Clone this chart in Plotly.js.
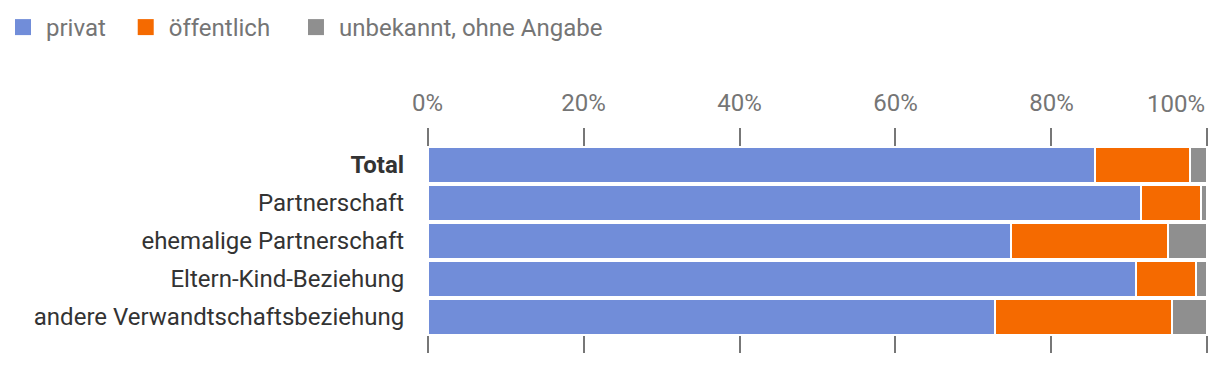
<!DOCTYPE html>
<html>
<head>
<meta charset="utf-8">
<script src="https://cdn.plot.ly/plotly-3.0.1.min.js"></script>
<style>html,body{margin:0;padding:0;background:#fff}#chart{width:1220px;height:366px}</style>
</head>
<body>
<div id="chart"></div>
<script>
const categories = ["Total", "Partnerschaft", "ehemalige Partnerschaft", "Eltern-Kind-Beziehung", "andere Verwandtschaftsbeziehung"];
const privat = [85.6, 91.5, 74.8, 90.8, 72.8];
const oeffentlich = [12.1, 7.7, 20.1, 7.7, 22.6];
const unbekannt = [2.3, 0.8, 5.1, 1.5, 4.6];
const seriesNames = ["privat", "öffentlich", "unbekannt, ohne Angabe"];
const xTicks = [0, 20, 40, 60, 80, 100];
const xTickLabels = ["0%", "20%", "40%", "60%", "80%", "100%"];

const colors = ["#718dd9", "#f56a00", "#8f8f8f"];
const legendPad = ["\u00a0\u00a0", "\u00a0\u00a0\u00a0", ""];
const vals = [privat, oeffentlich, unbekannt];
const traces = [];
vals.forEach((v, i) => {
  traces.push({
    type: "bar",
    orientation: "h",
    name: seriesNames[i],
    x: v,
    y: categories,
    marker: {color: colors[i], line: {color: "#ffffff", width: 2}},
    showlegend: false,
    hoverinfo: "skip"
  });
});
// legend entries (square swatches); trailing nbsp widen the gap between entries
vals.forEach((v, i) => {
  traces.push({
    type: "scatter", mode: "markers",
    name: seriesNames[i] + legendPad[i],
    x: [null], y: [null],
    marker: {color: colors[i], symbol: "square", size: 16},
    showlegend: true, hoverinfo: "skip"
  });
});

const lastIdx = xTicks.length - 1;
const layout = {
  width: 1220, height: 366,
  margin: {l: 426, r: 11, t: 128, b: 13, pad: 0},
  barmode: "stack",
  bargap: 0.05,
  paper_bgcolor: "#fff", plot_bgcolor: "#fff",
  font: {family: "Roboto, sans-serif", size: 24, color: "#333"},
  showlegend: true,
  legend: {
    orientation: "h", xref: "container", yref: "container",
    x: -5.4 / 1220, y: 1 - 5 / 366, xanchor: "left", yanchor: "top",
    font: {size: 24, color: "#757575"}, traceorder: "normal",
    itemclick: false, itemwidth: 36
  },
  xaxis: {
    side: "top", range: [-0.2, 100.2], tickvals: xTicks,
    ticktext: xTickLabels.map((t, i) => i === lastIdx ? "" : t),
    showgrid: true, gridcolor: "#777777", gridwidth: 2, zeroline: false,
    ticks: "outside", ticklen: 6, tickcolor: "rgba(0,0,0,0)",
    tickfont: {size: 24, color: "#757575"}, fixedrange: true
  },
  yaxis: {
    type: "category", range: [4.95, -0.97],
    tickvals: categories,
    ticktext: categories.map((c, i) => i === 0 ? "<b>" + c + "</b>" : c),
    showgrid: false, zeroline: false,
    ticks: "outside", ticklen: 16, tickcolor: "rgba(0,0,0,0)",
    tickfont: {size: 24, color: "#333333"}, fixedrange: true
  },
  annotations: [{
    x: xTicks[lastIdx], xref: "x", xanchor: "right",
    y: 1, yref: "paper", yanchor: "bottom", yshift: 8,
    text: xTickLabels[lastIdx], showarrow: false,
    font: {size: 24, color: "#757575"}
  }]
};
Plotly.newPlot("chart", traces, layout, {displayModeBar: false, staticPlot: true});
</script>
</body>
</html>
